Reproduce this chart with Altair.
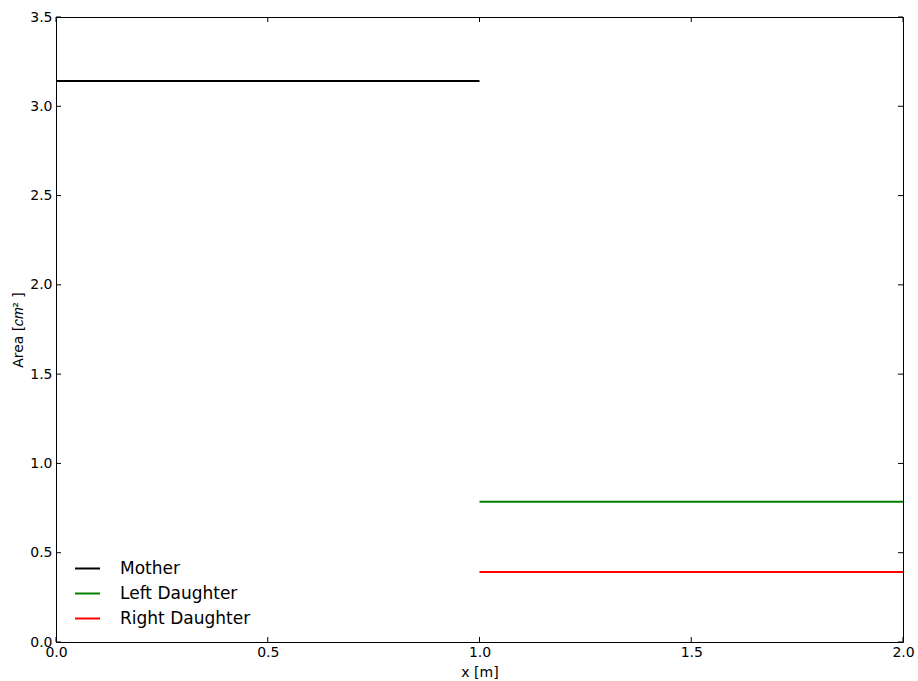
import altair as alt
import pandas as pd

# Cross-sectional area of each vessel segment along its length
series = ["Mother", "Left Daughter", "Right Daughter"]
x_start = [0.0, 1.0, 1.0]
x_end = [1.0, 2.0, 2.0]
area = [3.1416, 0.7854, 0.3927]
colors = ["#000000", "#008000", "#ff0000"]

x_ticks = [0.0, 0.5, 1.0, 1.5, 2.0]
y_ticks = [0.0, 0.5, 1.0, 1.5, 2.0, 2.5, 3.0, 3.5]

rows = []
for s, a, b, v in zip(series, x_start, x_end, area):
    rows.append({"series": s, "x": a, "area": v})
    rows.append({"series": s, "x": b, "area": v})
df = pd.DataFrame(rows)

W, H = 847, 625
FONT = "DejaVu Sans"
TICK = 5

xscale = alt.Scale(domain=[0, 2], nice=False, zero=False)
yscale = alt.Scale(domain=[0, 3.5], nice=False, zero=False)

x_axis = alt.Axis(values=x_ticks, format=".1f", ticks=False, grid=False, domain=False,
                  labelFont=FONT, labelFontSize=14, labelColor="#000", labelPadding=3,
                  labelFlush=False, title="x [m]", titleFont=FONT, titleFontSize=14,
                  titleFontWeight="normal", titleColor="#000", titlePadding=6)
y_axis = alt.Axis(values=y_ticks, format=".1f", ticks=False, grid=False, domain=False,
                  labelFont=FONT, labelFontSize=14, labelColor="#000", labelPadding=4,
                  labelFlush=False, title="Area [𝑐𝑚² ]", titleFont=FONT, titleFontSize=14,
                  titleFontWeight="normal", titleColor="#000", titlePadding=4)

lines = alt.Chart(df).mark_line(strokeWidth=2, clip=True).encode(
    x=alt.X("x:Q", scale=xscale, axis=x_axis),
    y=alt.Y("area:Q", scale=yscale, axis=y_axis),
    color=alt.Color(
        "series:N",
        scale=alt.Scale(domain=series, range=colors),
        sort=series,
        legend=alt.Legend(
            title=None, orient="none", legendX=18, legendY=538,
            symbolType="stroke", symbolSize=625, symbolStrokeWidth=2,
            labelFont=FONT, labelFontSize=17, labelColor="#000",
            labelOffset=19, rowPadding=3, padding=0,
        ),
    ),
    detail="series:N",
)

xt = pd.DataFrame({"t": x_ticks})
yt = pd.DataFrame({"t": y_ticks})

# inward tick marks on all four sides
bottom_ticks = alt.Chart(xt).mark_rule(color="#000", strokeWidth=1).encode(
    x=alt.X("t:Q", scale=xscale), y=alt.value(H), y2=alt.value(H - TICK))
top_ticks = alt.Chart(xt).mark_rule(color="#000", strokeWidth=1).encode(
    x=alt.X("t:Q", scale=xscale), y=alt.value(0), y2=alt.value(TICK))
left_ticks = alt.Chart(yt).mark_rule(color="#000", strokeWidth=1).encode(
    y=alt.Y("t:Q", scale=yscale), x=alt.value(0), x2=alt.value(TICK))
right_ticks = alt.Chart(yt).mark_rule(color="#000", strokeWidth=1).encode(
    y=alt.Y("t:Q", scale=yscale), x=alt.value(W), x2=alt.value(W - TICK))

chart = alt.layer(lines, bottom_ticks, top_ticks, left_ticks, right_ticks).properties(
    width=W, height=H,
    autosize=alt.AutoSizeParams(type="none"),
    padding={"left": 56, "top": 17, "right": 15, "bottom": 39},
    background="white",
).configure_view(stroke="#000", strokeWidth=1)

chart.save("out.html", embed_options={"renderer": "svg", "actions": False})
